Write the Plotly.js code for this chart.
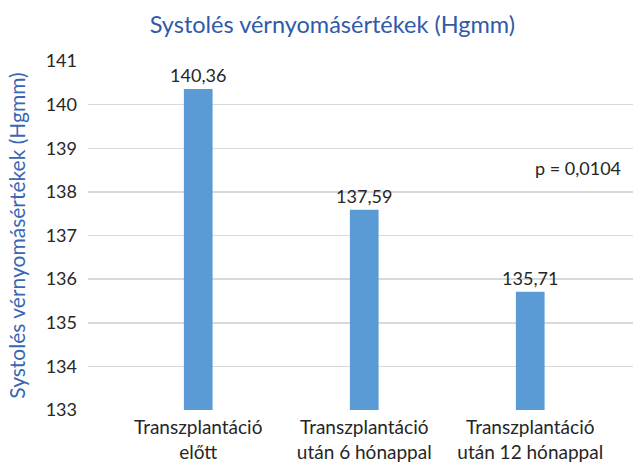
<!DOCTYPE html>
<html><head><meta charset="utf-8">
<script src="https://cdn.plot.ly/plotly-3.0.1.min.js"></script>
<style>body{margin:0;background:#fff}#c{width:633px;height:464px}</style>
</head><body><div id="c"></div>
<script>
const categories = ["Transzplantáció<br>előtt", "Transzplantáció<br>után 6 hónappal", "Transzplantáció<br>után 12 hónappal"];
const values = [140.36, 137.59, 135.71];
const valueLabels = ["140,36", "137,59", "135,71"];
const yTicks = [133, 134, 135, 136, 137, 138, 139, 140, 141];
const pText = "p = 0,0104";
const yMin = 133, yMax = 141;

const FONT = "Lato, 'Open Sans', sans-serif";
const idx = categories.map((_, i) => i);
const trace = {
  type: "bar", x: idx, y: values.map(v => v - yMin), base: yMin,
  marker: {color: "#5B9BD5"}, width: 0.173,
  text: valueLabels, textposition: "outside", cliponaxis: false, constraintext: "none",
  textfont: {family: FONT, size: 18, color: "#262626"},
  hoverinfo: "skip"
};
const layout = {
  width: 633, height: 464,
  margin: {l: 88, r: 0, t: 61, b: 54},
  paper_bgcolor: "#fff", plot_bgcolor: "#fff",
  showlegend: false,
  title: {text: "Systolés vérnyomásértékek (Hgmm)", x: 0.525, xanchor: "center", y: 0.947, yanchor: "middle",
          font: {family: FONT, size: 23.5, color: "#2F5AA8"}},
  xaxis: {range: [-0.664, 2.619], tickvals: idx, ticktext: categories, showgrid: false, zeroline: false,
          showline: false, ticks: "", ticklabelstandoff: 4, tickfont: {family: FONT, size: 19, color: "#262626"}},
  yaxis: {range: [yMin, yMax], tickvals: yTicks, ticktext: yTicks.map(String), showgrid: true, gridcolor: "#d9d9d9",
          gridwidth: 1.5, zeroline: false, showline: false, ticks: "", ticklabelstandoff: 10,
          tickfont: {family: FONT, size: 18, color: "#262626"},
          title: {text: "Systolés vérnyomásértékek (Hgmm)", standoff: 14, font: {family: FONT, size: 21, color: "#3A66B4"}}},
  annotations: [{text: pText, x: 0.982, xref: "paper", y: 138.55, yref: "y", xanchor: "right", yanchor: "middle",
                 showarrow: false, font: {family: FONT, size: 18, color: "#262626"}}]
};
Plotly.newPlot("c", [trace], layout, {staticPlot: true});
</script></body></html>
